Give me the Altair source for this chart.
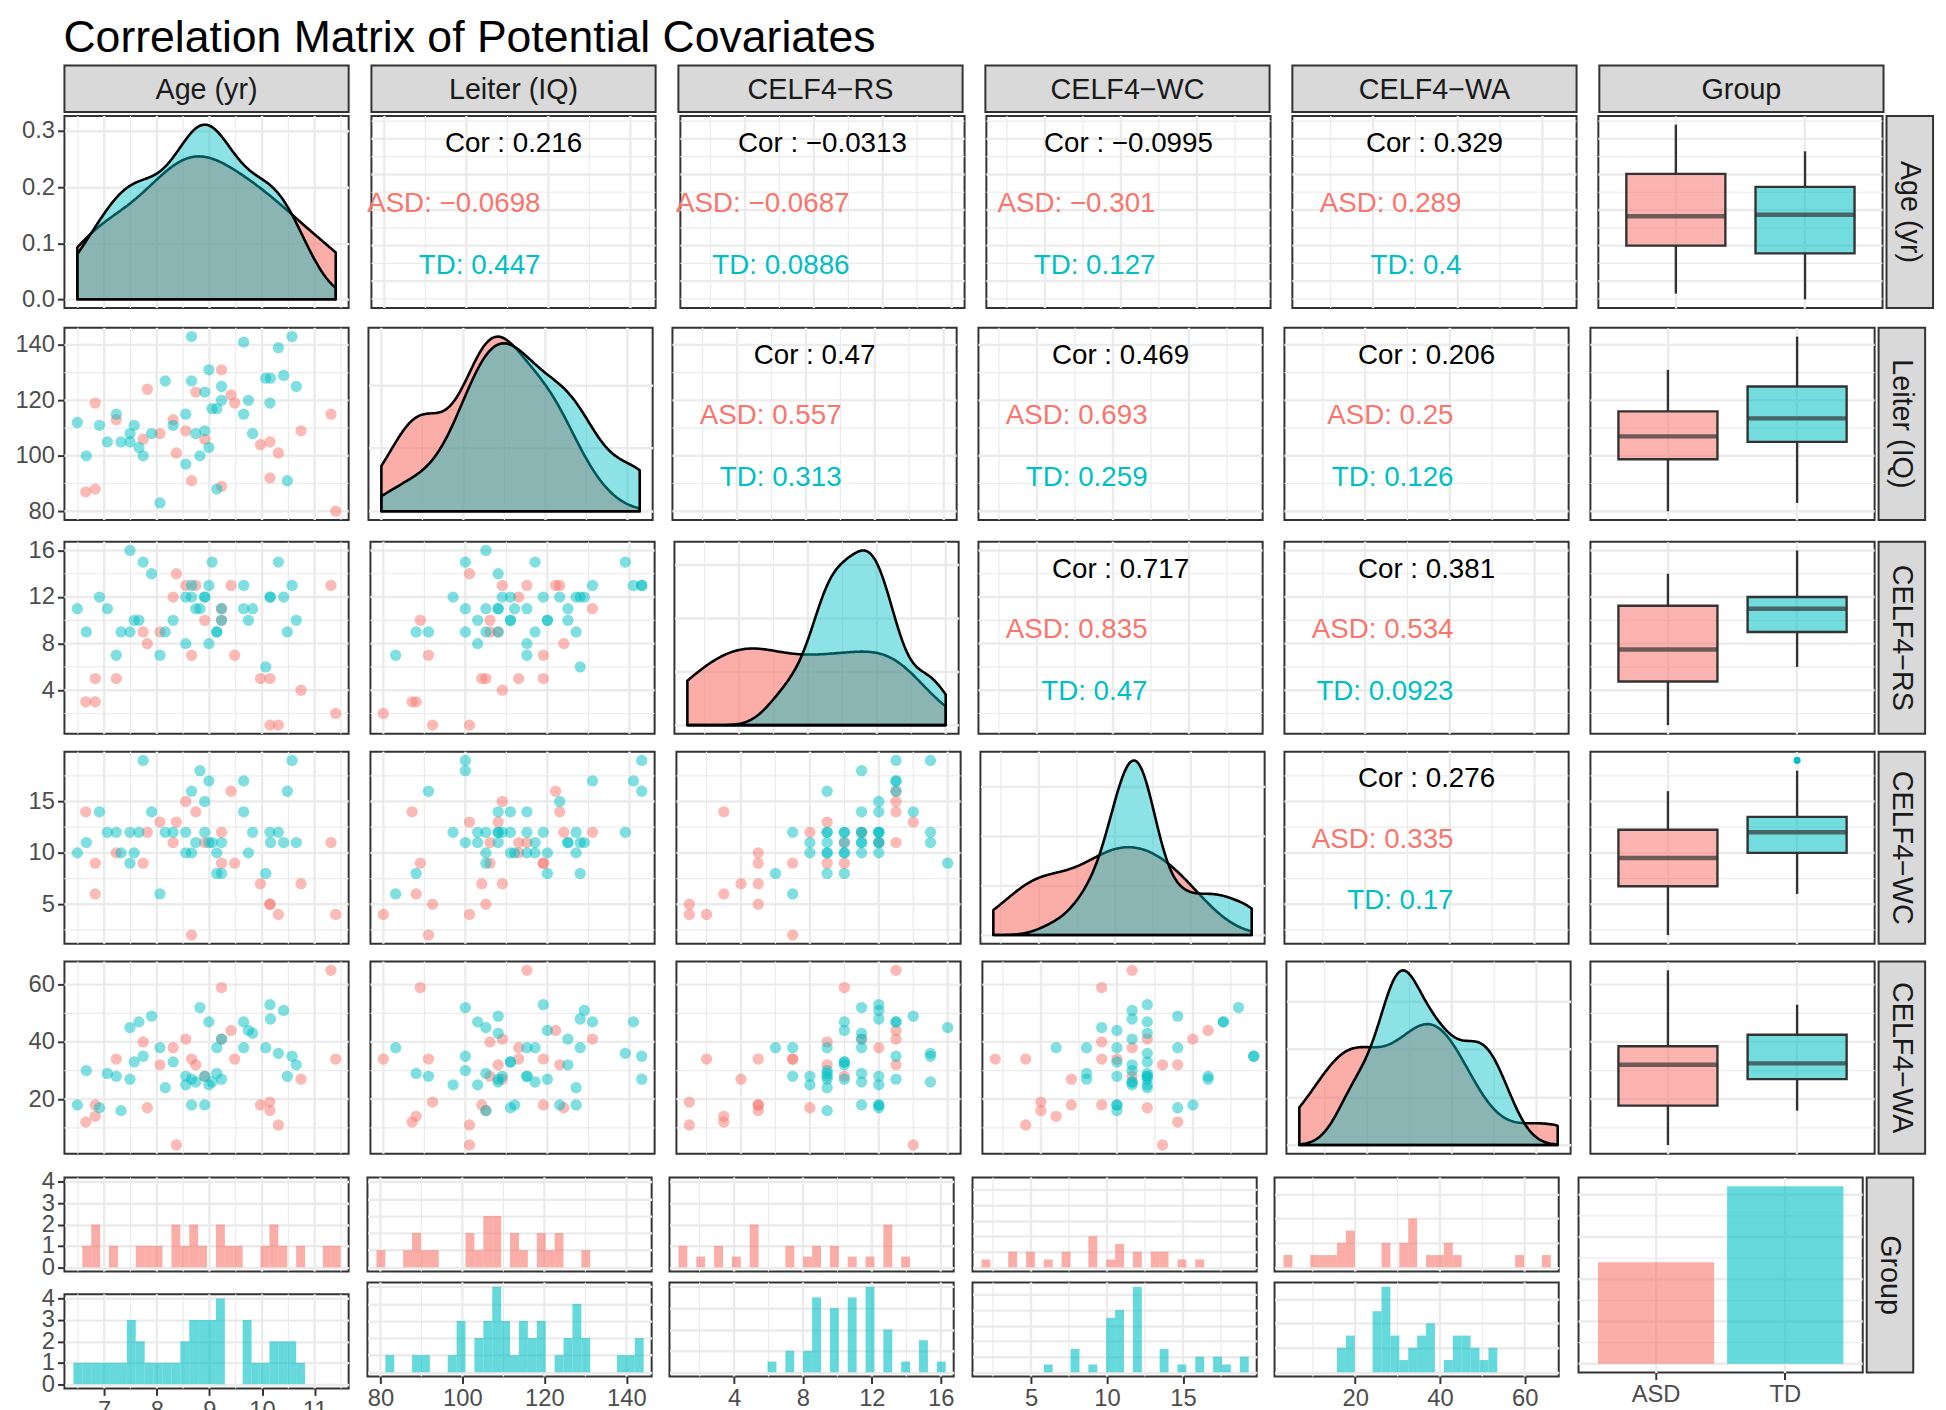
import altair as alt
import numpy as np
import pandas as pd

FONT = "Liberation Sans"
ASD_C = "#F8766D"
TD_C = "#00BFC4"
GRID = "#EBEBEB"
DARK = "#333333"
LAB = "#4D4D4D"

# ---------------- data (24 ASD, 42 TD) ----------------
group = ["ASD"] * 24 + ["TD"] * 42
age = [9.23, 7.82, 8.74, 9.41, 9.48, 6.83, 11.31, 7.23, 8.31, 8.06, 8.55, 8.91,
       10.74, 7.74, 8.37, 9.97, 10.15, 10.31, 8.66, 10.15, 9.23, 6.65, 6.83, 11.40,
       8.66, 9.65, 10.57, 10.31, 8.99, 8.16, 8.66, 8.91, 9.23, 10.07,
       10.16, 10.41, 10.65, 9.23, 9.74, 10.15, 9.05, 9.14, 9.65, 6.49,
       6.91, 7.23, 7.57, 8.31, 8.55, 7.49, 7.90, 8.74, 8.91, 9.82,
       7.06, 7.32, 7.49, 7.66, 7.74, 6.66, 8.55, 8.82, 8.99, 10.48,
       9.14, 8.06]
leiter = [131, 124, 123, 122, 119, 119, 115, 113, 113, 108, 109, 106,
          109, 106, 101, 104, 105, 101, 91, 92, 89, 87, 88, 80,
          143, 141, 143, 139, 131, 127, 127, 123, 125, 128,
          128, 129, 125, 120, 120, 119, 117, 117, 115, 112,
          111, 115, 111, 111, 115, 108, 108, 108, 109, 108,
          105, 105, 105, 103, 100, 100, 97, 100, 103, 91,
          88, 83]
rs = [11, 8, 13, 13, 7, 5, 13, 5, 12, 9, 13, 10,
      4, 9, 14, 5, 5, 1, 7, 1, 10, 3, 3, 2,
      13, 13, 13, 15, 13, 9, 12, 12, 11, 6,
      12, 12, 10, 10, 10, 12, 15, 9, 11, 11,
      12, 7, 10, 10, 8, 9, 14, 11, 12, 11,
      11, 9, 16, 10, 15, 9, 12, 11, 8, 9,
      9, 7]
wc = [12, 12, 14, 16, 9, 9, 11, 10, 11, 13, 15, 11,
      7, 9, 13, 7, 5, 4, 2, 5, 9, 14, 6, 4,
      16, 17, 19, 12, 17, 12, 10, 15, 11, 8,
      11, 11, 11, 8, 10, 12, 11, 10, 14, 10,
      14, 12, 10, 12, 10, 12, 14, 11, 12, 12,
      12, 10, 9, 12, 19, 11, 12, 18, 11, 16,
      8, 6]
wa = [41, 17, 32, 44, 34, 18, 65, 34, 38, 32, 41, 28,
      27, 40, 4, 18, 16, 11, 34, 19, 59, 12, 14, 34,
      27, 47, 35, 36, 47, 24, 18, 18, 41, 38,
      48, 51, 32, 27, 44, 53, 26, 38, 38, 18,
      17, 28, 33, 33, 28, 27, 49, 26, 28, 43,
      29, 16, 45, 47, 35, 30, 25, 52, 25, 28,
      29, 38]

VARS = ["Age", "Leiter", "RS", "WC", "WA"]
LABELS = {"Age": "Age (yr)", "Leiter": "Leiter (IQ)", "RS": "CELF4\u2212RS",
          "WC": "CELF4\u2212WC", "WA": "CELF4\u2212WA"}
BREAKS = {"Age": [7, 8, 9, 10, 11], "Leiter": [80, 100, 120, 140],
          "RS": [4, 8, 12, 16], "WC": [5, 10, 15], "WA": [20, 40, 60]}
MINORS = {"Age": [6.5, 7.5, 8.5, 9.5, 10.5, 11.5], "Leiter": [90, 110, 130],
          "RS": [2, 6, 10, 14], "WC": [2.5, 7.5, 12.5, 17.5], "WA": [10, 30, 50]}
DENS_BREAKS = [0, 0.1, 0.2, 0.3]
HIST_BREAKS = [0, 1, 2, 3, 4]
COUNT_BREAKS = [0, 10, 20, 30, 40]
COUNT_MINORS = [5, 15, 25, 35]
TITLE = "Correlation Matrix of Potential Covariates"

# upper-triangle correlation texts: (row, col) -> (overall, ASD, TD)
COR = {
    (0, 1): ("0.216", "\u22120.0698", "0.447"),
    (0, 2): ("\u22120.0313", "\u22120.0687", "0.0886"),
    (0, 3): ("\u22120.0995", "\u22120.301", "0.127"),
    (0, 4): ("0.329", "0.289", "0.4"),
    (1, 2): ("0.47", "0.557", "0.313"),
    (1, 3): ("0.469", "0.693", "0.259"),
    (1, 4): ("0.206", "0.25", "0.126"),
    (2, 3): ("0.717", "0.835", "0.47"),
    (2, 4): ("0.381", "0.534", "0.0923"),
    (3, 4): ("0.276", "0.335", "0.17"),
}

df = pd.DataFrame({"Group": group, "Age": age, "Leiter": leiter,
                   "RS": rs, "WC": wc, "WA": wa})

# ---------------- sizes ----------------
W, H = 287, 194
HGAP, VGAP = 16, 12
TOPGAP = 23
STRIP = 47
HH = 95
E = 54          # fixed width of the left axes
FS_TICK = 24
FS_STRIP = 29
FS_COR = 28


def expand(lo, hi, f=0.05):
    r = hi - lo
    return [lo - f * r, hi + f * r]


DOM = {v: expand(float(df[v].min()), float(df[v].max())) for v in VARS}
COLOR = alt.Scale(domain=["ASD", "TD"], range=[ASD_C, TD_C])
BAND = alt.Scale(domain=["ASD", "TD"], paddingInner=0.1, paddingOuter=0.15)
ONE = pd.DataFrame({"a": [0]})


def nrd0(x):
    x = np.asarray(x, dtype=float)
    sd = x.std(ddof=1)
    q75, q25 = np.percentile(x, [75, 25])
    lo = min(sd, (q75 - q25) / 1.34) if q75 > q25 else sd
    return 0.9 * lo * len(x) ** -0.2


def kde_max(x, bw, lo, hi):
    x = np.asarray(x, dtype=float)
    g = np.linspace(lo, hi, 400)
    d = np.exp(-0.5 * ((g[:, None] - x[None, :]) / bw) ** 2).sum(1)
    return (d / (len(x) * bw * np.sqrt(2 * np.pi))).max()


def sc(v):
    return alt.Scale(domain=DOM[v], nice=False, zero=False)


def tick_axis(values, fmt="d", grid=False, left=True, flush=False):
    kw = dict(values=values, grid=grid, domain=False, title=None, format=fmt,
              labelFontSize=FS_TICK, labelColor=LAB, tickColor=DARK,
              tickWidth=2, tickSize=7, labelPadding=3, labelOverlap=False)
    if left:
        kw.update(minExtent=E, maxExtent=E)
    if grid:
        kw.update(gridColor=GRID, gridWidth=2.4)
    if flush:
        kw.update(labelFlush=True)
    return alt.Axis(**kw)


def grid_axis(tick_count=4):
    return alt.Axis(grid=True, gridColor=GRID, gridWidth=2.4, labels=False,
                    ticks=False, domain=False, title=None, tickCount=tick_count,
                    minExtent=0, maxExtent=0)


def vrules(v, axis=None):
    out = []
    for vals, w in ((MINORS[v], 1.2), (BREAKS[v], 2.4)):
        out.append(alt.Chart(pd.DataFrame({"g": vals})).mark_rule(
            color=GRID, strokeWidth=w).encode(
            x=alt.X("g:Q", scale=sc(v), axis=axis)))
    return out


def hrules(v, axis=None):
    out = []
    for vals, w in ((MINORS[v], 1.2), (BREAKS[v], 2.4)):
        out.append(alt.Chart(pd.DataFrame({"g": vals})).mark_rule(
            color=GRID, strokeWidth=w).encode(
            y=alt.Y("g:Q", scale=sc(v), axis=axis)))
    return out


def scatter(c, r, yshow):
    yaxis = tick_axis(BREAKS[r]) if yshow else None
    pts = alt.Chart(df).mark_circle(size=130, opacity=0.5).encode(
        x=alt.X(f"{c}:Q", scale=sc(c), axis=None),
        y=alt.Y(f"{r}:Q", scale=sc(r), axis=yaxis),
        color=alt.Color("Group:N", scale=COLOR, legend=None))
    return alt.layer(*vrules(c), *hrules(r, yaxis), pts).properties(width=W, height=H)


def density(v, yshow):
    lo, hi = float(df[v].min()), float(df[v].max())
    specs = []
    m = 0
    for g, col, op in (("ASD", ASD_C, 0.6), ("TD", TD_C, 0.45)):
        x = df.loc[df.Group == g, v]
        bw = nrd0(x)
        m = max(m, kde_max(x, bw, lo, hi))
        specs.append((g, col, op, bw))
    yscale = alt.Scale(domain=[-0.05 * m, 1.05 * m], nice=False, zero=False)
    if yshow:
        yaxis = tick_axis(DENS_BREAKS, fmt=".1f", grid=True)
    else:
        yaxis = grid_axis(4)
    layers = [*vrules(v)]
    for g, col, op, bw in specs:
        layers.append(
            alt.Chart(df).transform_filter(alt.datum.Group == g)
            .transform_density(v, as_=[v, "density"], bandwidth=bw,
                               extent=[lo, hi], steps=200)
            .mark_area(fill=col, fillOpacity=op, stroke="black",
                       strokeWidth=2.6, strokeJoin="round")
            .encode(x=alt.X(f"{v}:Q", scale=sc(v), axis=None),
                    y=alt.Y("density:Q", scale=yscale, axis=yaxis)))
    return alt.layer(*layers).properties(width=W, height=H)


def cortext(r, c):
    cor, asd, td = COR[(r, c)]
    t1 = alt.Chart(ONE).mark_text(text=f"Cor : {cor}", fontSize=FS_COR,
                                  color="black", align="center",
                                  baseline="middle").encode(
        x=alt.value(W * 0.5), y=alt.value(H * 0.145))
    t2 = alt.Chart(ONE).mark_text(text=f"ASD: {asd}", fontSize=FS_COR,
                                  color=ASD_C, align="right",
                                  baseline="middle").encode(
        x=alt.value(W * 0.595), y=alt.value(H * 0.46))
    t3 = alt.Chart(ONE).mark_text(text=f"TD: {td}", fontSize=FS_COR,
                                  color=TD_C, align="right",
                                  baseline="middle").encode(
        x=alt.value(W * 0.595), y=alt.value(H * 0.78))
    return alt.layer(*vrules(VARS[c]), *hrules(VARS[r]), t1, t2, t3).properties(
        width=W, height=H)


def boxpanel(r):
    b = alt.Chart(df).mark_boxplot(
        size=100, extent=1.5,
        box={"stroke": DARK, "strokeWidth": 2.4, "fillOpacity": 0.55},
        median={"color": DARK, "thickness": 4.5},
        rule={"color": DARK, "strokeWidth": 2.4},
        outliers={"color": DARK, "size": 45, "filled": True, "opacity": 1},
        ticks=False).encode(
        x=alt.X("Group:N", scale=BAND,
                axis=alt.Axis(grid=True, gridColor=GRID, gridWidth=2.4,
                              labels=False, ticks=False, domain=False,
                              title=None, bandPosition=0.5,
                              minExtent=0, maxExtent=0)),
        y=alt.Y(f"{r}:Q", scale=sc(r), axis=None),
        color=alt.Color("Group:N", scale=COLOR, legend=None))
    return alt.layer(*hrules(r), b).properties(width=W, height=H)


def hist(v, g, yshow, xshow, cmax, lo, step):
    col = ASD_C if g == "ASD" else TD_C
    yaxis = tick_axis(HIST_BREAKS, grid=True, flush=True) if yshow else grid_axis(4)
    xaxis = tick_axis(BREAKS[v], left=False) if xshow else None
    bars = alt.Chart(df).transform_filter(alt.datum.Group == g).mark_bar(
        color=col, opacity=0.6, binSpacing=0).encode(
        x=alt.X(f"{v}:Q",
                bin=alt.Bin(extent=[lo - step / 2, float(df[v].max()) + step / 2],
                            step=step, nice=False),
                scale=sc(v), axis=xaxis),
        y=alt.Y("count():Q",
                scale=alt.Scale(domain=[-0.05 * cmax, 1.05 * cmax], nice=False, zero=False),
                axis=yaxis))
    return alt.layer(*vrules(v, xaxis), bars).properties(width=W, height=HH)


def hist_cell(v, first):
    lo, hi = float(df[v].min()), float(df[v].max())
    step = (hi - lo) / 29
    edges = lo - step / 2 + step * np.arange(31)
    cmax = 0
    for g in ("ASD", "TD"):
        cnt, _ = np.histogram(df.loc[df.Group == g, v], bins=edges)
        cmax = max(cmax, int(cnt.max()))
    return alt.vconcat(hist(v, "ASD", first, False, cmax, lo, step),
                       hist(v, "TD", first, True, cmax, lo, step),
                       spacing=5)


def group_bar():
    n = max(group.count("ASD"), group.count("TD"))
    ysc = alt.Scale(domain=[-0.05 * n, 1.05 * n], nice=False, zero=False)
    rules = []
    for vals, w in ((COUNT_MINORS, 1.2), (COUNT_BREAKS, 2.4)):
        rules.append(alt.Chart(pd.DataFrame({"g": vals})).mark_rule(
            color=GRID, strokeWidth=w).encode(
            y=alt.Y("g:Q", scale=ysc, axis=None)))
    bars = alt.Chart(df).mark_bar(opacity=0.6).encode(
        x=alt.X("Group:N", scale=BAND,
                axis=alt.Axis(grid=True, gridColor=GRID, gridWidth=2.4,
                              domain=False, title=None, labelAngle=0,
                              labelFontSize=FS_TICK, labelColor=LAB,
                              tickColor=DARK, tickWidth=2, tickSize=7,
                              labelPadding=3, bandPosition=0.5)),
        y=alt.Y("count():Q", scale=ysc, axis=None),
        color=alt.Color("Group:N", scale=COLOR, legend=None))
    return alt.layer(*rules, bars).properties(width=W, height=2 * HH + 7)


def top_strip(label, with_title=False):
    txt = alt.Chart(ONE).mark_text(
        text=label, fontSize=FS_STRIP, color="#1A1A1A", baseline="middle",
        align="center").encode(x=alt.value(W / 2), y=alt.value(STRIP / 2 + 1))
    layers = [txt]
    if with_title:
        layers.append(alt.Chart(ONE).mark_text(
            text=TITLE, fontSize=45, color="black", align="left",
            baseline="alphabetic").encode(x=alt.value(-1), y=alt.value(-14)))
    return alt.layer(*layers).properties(
        width=W, height=STRIP,
        view=alt.ViewBackground(fill="#D9D9D9", stroke=DARK, strokeWidth=2))


def right_strip(label, h):
    return alt.Chart(ONE).mark_text(
        text=label, fontSize=FS_STRIP, color="#1A1A1A", baseline="middle",
        align="center", angle=90).encode(
        x=alt.value(STRIP / 2), y=alt.value(h / 2)).properties(
        width=STRIP, height=h,
        view=alt.ViewBackground(fill="#D9D9D9", stroke=DARK, strokeWidth=2))


# ---------------- assemble ----------------
top = alt.hconcat(*[top_strip(LABELS[v], with_title=(i == 0)) for i, v in enumerate(VARS)],
                  top_strip("Group"), spacing=TOPGAP, bounds="flush")

rows = []
for r, rv in enumerate(VARS):
    cells = []
    for c, cv in enumerate(VARS):
        if c == r:
            cells.append(density(cv, yshow=(c == 0)))
        elif c < r:
            cells.append(scatter(cv, rv, yshow=(c == 0)))
        else:
            cells.append(cortext(r, c))
    cells.append(boxpanel(rv))
    inner = alt.hconcat(*cells, spacing=HGAP)
    rows.append(alt.hconcat(inner, right_strip(LABELS[rv], H), spacing=0))

last_cells = [hist_cell(v, i == 0) for i, v in enumerate(VARS)] + [group_bar()]
last_inner = alt.hconcat(*last_cells, spacing=HGAP)
rows.append(alt.hconcat(last_inner, right_strip("Group", 2 * HH + 7), spacing=0))

head = alt.vconcat(top, rows[0], spacing=0)
chart = alt.vconcat(head, *rows[1:], spacing=VGAP).properties(
    padding={"left": 2, "top": 0, "right": 4, "bottom": 0},
).configure(font=FONT).configure_view(stroke=DARK, strokeWidth=2, fill="white")

chart.save("out.html", embed_options={"renderer": "svg", "actions": False})
